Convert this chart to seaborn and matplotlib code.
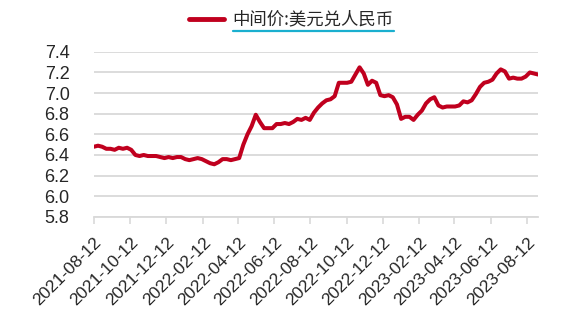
import matplotlib
matplotlib.use("Agg")
import matplotlib.pyplot as plt
from matplotlib.lines import Line2D
import seaborn as sns
import pandas as pd

series_name = "中间价:美元兑人民币"
start_date = "2021-08-12"
end_date = "2023-08-31"
# weekly readings of the central parity rate, starting at start_date
values = [
    6.48, 6.49, 6.48,
    6.46, 6.46, 6.45, 6.47,
    6.46, 6.47, 6.45, 6.40, 6.39,
    6.40, 6.39, 6.39, 6.39,
    6.38, 6.37, 6.38, 6.37, 6.38,
    6.38, 6.36, 6.35, 6.36,
    6.37, 6.36, 6.34, 6.32,
    6.31, 6.33, 6.36, 6.36,
    6.35, 6.36, 6.37, 6.50, 6.60,
    6.68, 6.79, 6.72, 6.66,
    6.66, 6.66, 6.70, 6.70,
    6.71, 6.70, 6.72, 6.75, 6.74,
    6.76, 6.74, 6.81, 6.86,
    6.90, 6.93, 6.94, 6.97, 7.10,
    7.10, 7.10, 7.11, 7.18,
    7.25, 7.19, 7.08, 7.12,
    7.10, 6.98, 6.97, 6.98, 6.96,
    6.89, 6.75, 6.77, 6.77,
    6.74, 6.79, 6.83, 6.90,
    6.94, 6.96, 6.88, 6.86,
    6.87, 6.87, 6.87, 6.88, 6.92,
    6.91, 6.93, 6.99, 7.06,
    7.10, 7.11, 7.13, 7.19, 7.23,
    7.21, 7.14, 7.15, 7.14,
    7.14, 7.16, 7.20, 7.19, 7.18,
]
tick_dates = ["2021-08-12", "2021-10-12", "2021-12-12", "2022-02-12",
              "2022-04-12", "2022-06-12", "2022-08-12", "2022-10-12",
              "2022-12-12", "2023-02-12", "2023-04-12", "2023-06-12",
              "2023-08-12"]
y_ticks = [5.8, 6.0, 6.2, 6.4, 6.6, 6.8, 7.0, 7.2, 7.4]

dates = pd.date_range(start_date, end_date, periods=len(values))
df = pd.DataFrame({"date": dates, "value": values, "series": series_name})

sns.set_style("white")
plt.rcParams["font.family"] = ["Noto Sans CJK SC", "DejaVu Sans"]

fig = plt.figure(figsize=(5.83, 3.18), dpi=100)
ax = fig.add_axes([0.161, 0.318, 0.762, 0.519])

red = "#C0001E"
sns.lineplot(data=df, x="date", y="value", hue="series", palette=[red],
             linewidth=2.9, ax=ax)

lab_font = ["Liberation Sans", "DejaVu Sans"]
ax.set_ylim(5.8, 7.4)
ax.set_yticks(y_ticks)
ax.set_yticklabels([f"{v:.1f}" for v in y_ticks], fontsize=13,
                   family=lab_font)
ax.set_xlim(pd.Timestamp(start_date), pd.Timestamp(end_date))
tk = pd.to_datetime(tick_dates)
ax.set_xticks(tk)
ax.set_xticklabels(tick_dates, rotation=45, ha="right",
                   rotation_mode="anchor", fontsize=12.5, family=lab_font)
ax.set_xlabel("")
ax.set_ylabel("")

ax.grid(axis="y", color="#d9d9d9", linewidth=1.3)
ax.set_axisbelow(True)
for s in ["top", "right", "left"]:
    ax.spines[s].set_visible(False)
ax.spines["bottom"].set_color("#d9d9d9")
ax.spines["bottom"].set_linewidth(1.3)
ax.tick_params(axis="x", which="major", bottom=True, length=5, width=1.2,
               color="#d9d9d9", pad=8)
ax.tick_params(axis="y", left=False, pad=14)

leg = ax.legend(loc="upper center", bbox_to_anchor=(0.5, 1.015),
                bbox_transform=fig.transFigure, frameon=False,
                fontsize=12.5, handlelength=2.0, handletextpad=0.5)
for h in leg.get_lines():
    h.set_linewidth(3.5)

fig.canvas.draw()
tb = leg.get_texts()[0].get_window_extent()
W, H = fig.bbox.width, fig.bbox.height
yline = (tb.y0 - 2) / H
fig.add_artist(Line2D([tb.x0 / W, tb.x1 / W], [yline, yline],
                      color="#1AAFCF", linewidth=1.6,
                      transform=fig.transFigure))

fig.savefig("out.png", dpi=100)
